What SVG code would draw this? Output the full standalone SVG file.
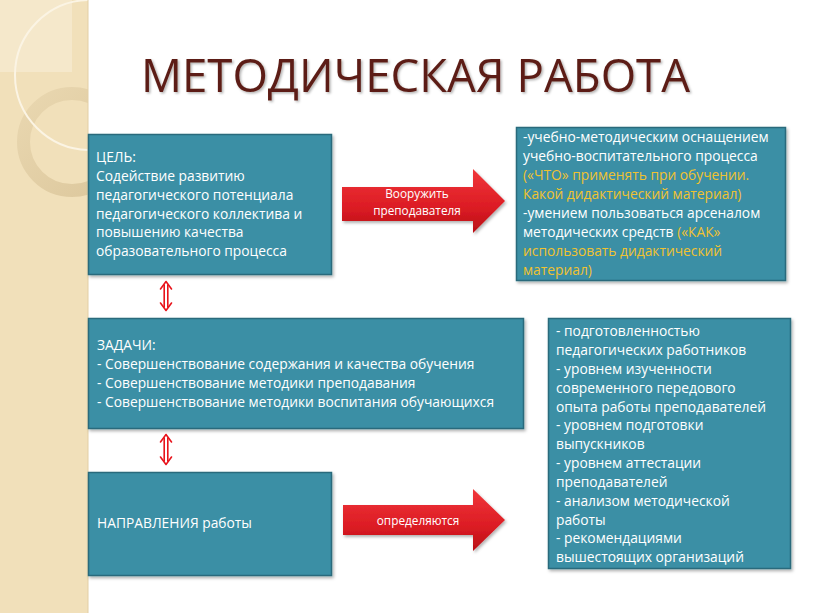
<svg xmlns="http://www.w3.org/2000/svg" width="816" height="613" viewBox="0 0 816 613">
<defs>
<style>
.box{fill:#3a8fa5;stroke:#2a6b7c;stroke-width:1.5}
.t{font-family:"Open Sans","Noto Sans","DejaVu Sans",sans-serif;font-size:13.8px;fill:#ffffff}
.y{fill:#f0c230}
.at{font-family:"Open Sans","Noto Sans","DejaVu Sans",sans-serif;font-size:11.8px;fill:#ffffff;text-anchor:middle}
.dbl{fill:none;stroke:#e8141c;stroke-width:1.6;stroke-linecap:round;stroke-linejoin:round}
</style>
<linearGradient id="rg" x1="0" y1="0" x2="0" y2="1">
<stop offset="0" stop-color="#f0363a"/>
<stop offset="0.6" stop-color="#dc1c24"/>
<stop offset="1" stop-color="#b80f16"/>
</linearGradient>
<linearGradient id="ring" x1="0" y1="0" x2="1" y2="1">
<stop offset="0" stop-color="#e9d7b0"/>
<stop offset="1" stop-color="#dcc79c"/>
</linearGradient>
<filter id="sh" x="-10%" y="-20%" width="130%" height="150%">
<feDropShadow dx="1.5" dy="2" stdDeviation="1.5" flood-color="#000" flood-opacity="0.3"/>
</filter>
<filter id="tsh" x="-5%" y="-20%" width="110%" height="150%">
<feDropShadow dx="1.5" dy="1.5" stdDeviation="1" flood-color="#000" flood-opacity="0.3"/>
</filter>
<clipPath id="strip"><rect x="0" y="0" width="88" height="613"/></clipPath>
</defs>
<rect x="0" y="0" width="816" height="613" fill="#ffffff"/>
<g id="sidebar">
<rect x="0" y="0" width="88" height="613" fill="#f1e0ba"/>
<g clip-path="url(#strip)">
<rect x="0" y="0" width="72" height="72" fill="#f5e8cb"/>
<circle cx="72" cy="142" r="48.5" fill="none" stroke="url(#ring)" stroke-width="13"/>
<circle cx="90" cy="75" r="75" fill="none" stroke="#fbf4e4" stroke-width="2"/>
</g>
<line x1="88" y1="0" x2="88" y2="613" stroke="#e2cfa6" stroke-width="1"/>
</g>
<g id="title">
<text x="141" y="92" font-family="Candara,'Open Sans','Noto Sans','Liberation Sans',sans-serif" font-size="45" fill="#5c1f16" textLength="549" lengthAdjust="spacingAndGlyphs" filter="url(#tsh)">МЕТОДИЧЕСКАЯ РАБОТА</text>
</g>
<g id="goal">
<rect class="box" x="88.5" y="134.5" width="243" height="140" filter="url(#sh)"/>
<text class="t" x="96"><tspan x="96" y="162">ЦЕЛЬ:</tspan><tspan x="96" y="181">Содействие развитию</tspan><tspan x="96" y="200">педагогического потенциала</tspan><tspan x="96" y="218.5">педагогического коллектива и</tspan><tspan x="96" y="237">повышению качества</tspan><tspan x="96" y="256">образовательного процесса</tspan></text>
</g>
<g id="equip">
<rect class="box" x="516.5" y="127.5" width="269" height="153" filter="url(#sh)"/>
<text class="t"><tspan x="523" y="142">-учебно-методическим оснащением</tspan><tspan x="523" y="161">учебно-воспитательного процесса</tspan><tspan x="523" y="180" class="y">(«ЧТО» применять при обучении.</tspan><tspan x="523" y="199" class="y">Какой дидактический материал)</tspan><tspan x="523" y="218">-умением пользоваться арсеналом</tspan><tspan x="523" y="237">методических средств <tspan class="y">(«КАК»</tspan></tspan><tspan x="523" y="256" class="y">использовать дидактический</tspan><tspan x="523" y="275" class="y">материал)</tspan></text>
</g>
<g id="tasks">
<rect class="box" x="88.5" y="318.5" width="435" height="110" filter="url(#sh)"/>
<text class="t"><tspan x="97" y="350">ЗАДАЧИ:</tspan><tspan x="97" y="369">- Совершенствование содержания и качества обучения</tspan><tspan x="97" y="388">- Совершенствование методики преподавания</tspan><tspan x="97" y="407">- Совершенствование методики воспитания обучающихся</tspan></text>
</g>
<g id="directions">
<rect class="box" x="88.5" y="472.5" width="243" height="103" filter="url(#sh)"/>
<text class="t" x="97" y="528">НАПРАВЛЕНИЯ работы</text>
</g>
<g id="criteria">
<rect class="box" x="548.5" y="318.5" width="242" height="250" filter="url(#sh)"/>
<text class="t"><tspan x="556" y="336">- подготовленностью</tspan><tspan x="556" y="355">педагогических работников</tspan><tspan x="556" y="374">- уровнем изученности</tspan><tspan x="556" y="392.5">современного передового</tspan><tspan x="556" y="411.5">опыта работы преподавателей</tspan><tspan x="556" y="430">- уровнем подготовки</tspan><tspan x="556" y="449">выпускников</tspan><tspan x="556" y="468">- уровнем аттестации</tspan><tspan x="556" y="487">преподавателей</tspan><tspan x="556" y="505.5">- анализом методической</tspan><tspan x="556" y="524.5">работы</tspan><tspan x="556" y="543">- рекомендациями</tspan><tspan x="556" y="562">вышестоящих организаций</tspan></text>
</g>
<g id="connectors">
<g id="arrow-arm">
<polygon points="342,187 473,187 473,169 505,201 473,233 473,221 342,221" fill="url(#rg)" filter="url(#sh)"/>
<text class="at" x="417" y="198">Вооружить</text>
<text class="at" x="417" y="215">преподавателя</text>
</g>
<g id="arrow-define">
<polygon points="343,505 473,505 473,489 505,520 473,551 473,535 343,535" fill="url(#rg)" filter="url(#sh)"/>
<text class="at" x="418" y="525">определяются</text>
</g>
<g id="dbl1">
<path class="dbl" d="M164.2,285 L164.2,307 M167.8,285 L167.8,307"/>
<path class="dbl" d="M160.5,289 L166,281.5 L171.5,289 M160.5,303 L166,310.5 L171.5,303" stroke-width="2.6"/>
</g>
<g id="dbl2">
<path class="dbl" d="M164.2,438 L164.2,461 M167.8,438 L167.8,461"/>
<path class="dbl" d="M160.5,442 L166,434.5 L171.5,442 M160.5,457 L166,464.5 L171.5,457" stroke-width="2.6"/>
</g>
</g>
</svg>
